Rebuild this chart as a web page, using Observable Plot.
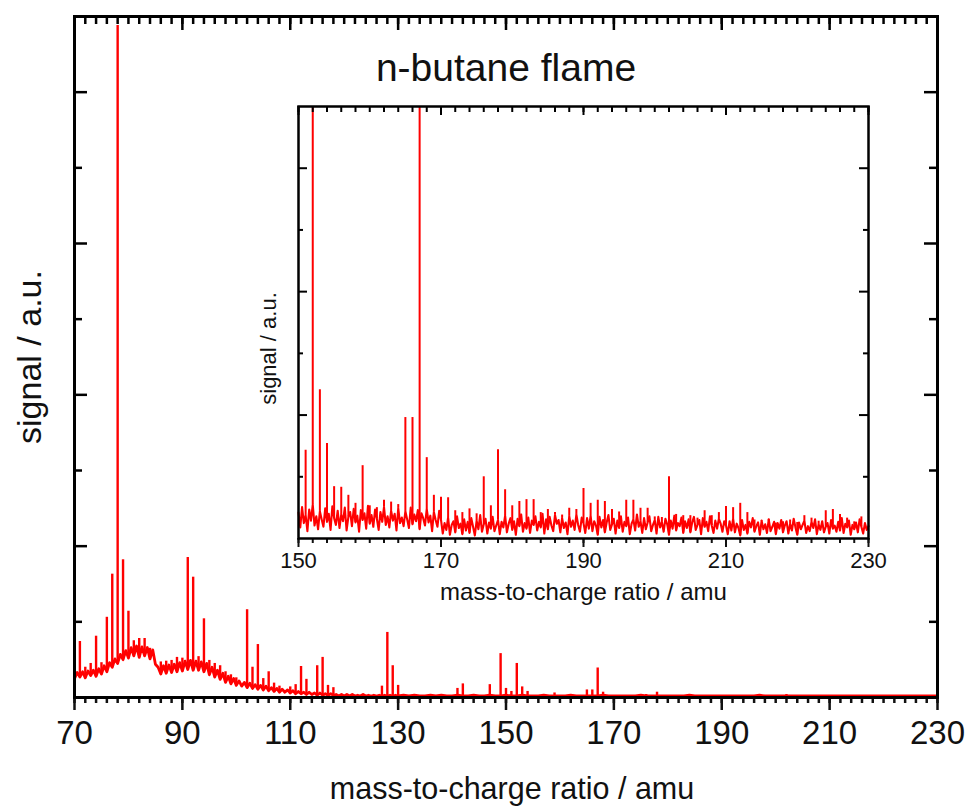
<!DOCTYPE html>
<html><head><meta charset="utf-8">
<script src="https://cdn.jsdelivr.net/npm/d3@7"></script>
<script src="https://cdn.jsdelivr.net/npm/@observablehq/plot@0.6"></script>
<style>
html,body{margin:0;padding:0;background:#fff;}
#wrap{position:relative;width:969px;height:810px;overflow:hidden;}
#main{position:absolute;left:0;top:0;}
#inset{position:absolute;left:230px;top:90px;}
</style></head><body><div id="wrap"><div id="main"></div><div id="inset"></div></div>
<script>
// ---------- texts ----------
const chartTitle = "n-butane flame";
const xTitle = "mass-to-charge ratio / amu";
const yTitle = "signal / a.u.";

// ---------- main panel ticks ----------
const xMainDomain = [70, 230];
const xMainMajor = [70, 90, 110, 130, 150, 170, 190, 210, 230];
const yMainDomain = [0, 9];
const yMainMajor = [2, 4, 6, 8];
const yMainMinor = [1, 3, 5, 7];

// ---------- inset ticks ----------
const xInsetDomain = [150, 230];
const xInsetMajor = [150, 170, 190, 210, 230];
const yInsetDomain = [0, 7];
const yInsetMajor = [2, 4, 6];
const yInsetMinor = [1, 3, 5];

// ---------- main spectrum: discrete peaks ----------
const mainPeakMass = [71,72,73,74,75,76,77,78,79,80,81,82,83,84,86,87,88,89,90,91,92,93,94,95,96,97,98,99,100,
  102,103,104,105,106,107,108,110,111,112,113,115,116,117,118,127,128,129,130,141,142,147,149,150,151,152,153,154,159,165,166,167,168,176,178,202];
const mainPeakSignal = [0.74,0.40,0.45,0.81,0.46,1.06,1.63,8.88,1.82,1.14,0.75,0.78,0.78,0.65,0.47,0.48,0.49,0.53,0.52,1.85,1.59,0.54,1.04,0.49,0.45,0.42,0.34,0.30,0.26,
  1.16,0.40,0.70,0.25,0.34,0.19,0.15,0.14,0.17,0.41,0.24,0.42,0.53,0.16,0.13,0.15,0.86,0.42,0.16,0.12,0.18,0.17,0.58,0.12,0.08,0.45,0.14,0.08,0.06,0.10,0.10,0.39,0.07,0.04,0.07,0.04];

// main baseline, 70 .. 130 amu every 0.5 amu
const mainBaseA = [
  .25,.33,.27,.34,.26,.35,.29,.36,.28,.38,
  .31,.42,.34,.46,.40,.51,.45,.57,.50,.62,
  .52,.66,.55,.68,.53,.67,.55,.66,.51,.63,
  .44,.40,.31,.42,.32,.43,.33,.44,.34,.46,
  .35,.48,.37,.49,.36,.48,.36,.47,.34,.45,
  .30,.40,.27,.36,.24,.32,.20,.28,.18,.25,
  .16,.22,.15,.20,.13,.19,.12,.17,.11,.16,
  .10,.15,.09,.13,.08,.12,.07,.11,.07,.10,
  .06,.09,.05,.08,.05,.07,.04,.07,.04,.06,
  .03,.06,.03,.05,.03,.05,.03,.04,.02,.04,
  .02,.04,.02,.04,.02,.03,.02,.04,.02,.03,
  .02,.03,.02,.03,.02,.03,.02,.03,.02,.03,
  .02];
// main baseline, 131 .. 230 amu every 1 amu
const mainBaseB = [
  .03,.02,.03,.02,.02,.03,.02,.03,.02,.02,
  .03,.02,.02,.03,.02,.02,.03,.02,.02,.03,
  .02,.02,.03,.02,.02,.02,.03,.02,.02,.02,
  .02,.03,.02,.02,.02,.02,.02,.03,.02,.02,
  .02,.02,.02,.02,.03,.02,.02,.02,.02,.02,
  .02,.02,.02,.03,.02,.02,.02,.02,.02,.02,
  .02,.02,.02,.02,.02,.02,.03,.02,.02,.02,
  .02,.02,.02,.02,.02,.02,.02,.02,.02,.02,
  .02,.02,.02,.02,.02,.02,.02,.02,.02,.02,
  .02,.02,.02,.02,.02,.02,.02,.02,.02,.02];

// ---------- inset spectrum: discrete peaks ----------
const insetPeakMass = [151,152,153,154,155,156,157,158,159,160,161,162,163,164,165,166,167,168,169,170,171,172,173,174,175,
  176,177,178,179,180,181,182,183,184,185,186,187,188,189,190,191,192,193,194,195,196,197,198,199,200,
  201,202,203,204,205,206,207,208,209,210,211,212,213,214,215,216,217,218,219,220,221,222,223,224,225,226,227,228,229];
const insetPeakSignal = [1.43,8,2.41,1.54,0.84,0.83,0.70,0.57,1.18,0.53,0.50,0.62,0.59,0.55,1.96,1.96,8,1.31,0.70,0.67,0.66,0.45,0.42,0.48,0.40,
  1.00,0.53,1.44,0.79,0.53,0.60,0.63,0.63,0.42,0.47,0.42,0.38,0.49,0.47,0.81,0.57,0.62,0.60,0.47,0.43,0.62,0.62,0.49,0.49,0.35,
  0.34,1.00,0.39,0.37,0.37,0.33,0.45,0.37,0.42,0.52,0.50,0.57,0.42,0.30,0.28,0.28,0.25,0.27,0.30,0.26,0.37,0.33,0.28,0.45,0.47,0.39,0.33,0.27,0.35];

// inset noise floor, every 0.25 amu
const insetNoise150 = [
  .42,.18,.51,.25,.38,.12,.47,.29,.55,.21,.36,.15,.44,.31,.19,.49,.27,.40,.14,.52,
  .33,.22,.45,.17,.39,.28,.50,.13,.35,.43,.20,.48,.26,.37,.11,.46,.30,.41,.16,.53,
  .24,.38,.19,.47,.32,.14,.43,.27,.51,.22,.36,.18,.45,.29,.40,.13,.49,.25,.34,.20,
  .44,.31,.17,.50,.23,.39,.28,.46,.15,.41,.33,.21,.48,.26,.37,.12,.43,.30,.19,.45];
const insetNoise170 = [
  .30,.08,.25,.14,.34,.06,.22,.28,.10,.36,.17,.24,.07,.31,.13,.27,.09,.33,.19,.05,
  .29,.15,.38,.11,.23,.32,.08,.26,.16,.35,.12,.21,.30,.07,.27,.18,.37,.10,.24,.33,
  .14,.28,.06,.32,.20,.39,.11,.25,.16,.34,.09,.29,.22,.36,.13,.27,.18,.40,.08,.31,
  .15,.35,.21,.12,.38,.24,.30,.10,.33,.17,.26,.07,.36,.19,.29,.14,.39,.22,.11,.34];
const insetNoise190 = [
  .25,.09,.33,.16,.37,.12,.28,.21,.06,.35,.18,.30,.10,.26,.38,.14,.23,.32,.08,.29,
  .17,.36,.11,.27,.20,.34,.07,.24,.31,.13,.39,.19,.28,.09,.33,.15,.26,.36,.12,.22,
  .30,.08,.35,.18,.27,.11,.32,.23,.06,.29,.16,.37,.13,.25,.20,.34,.09,.28,.17,.31,
  .10,.26,.35,.14,.22,.30,.07,.33,.19,.27,.12,.36,.21,.09,.29,.16,.32,.24,.11,.28];
const insetNoise210 = [
  .21,.07,.28,.13,.32,.10,.24,.17,.05,.30,.14,.22,.08,.27,.18,.33,.11,.20,.26,.06,
  .29,.15,.23,.09,.31,.12,.19,.27,.07,.25,.16,.30,.10,.21,.28,.08,.24,.13,.32,.18,
  .06,.26,.15,.22,.29,.09,.20,.12,.27,.17,.31,.07,.23,.14,.28,.10,.19,.25,.08,.30,
  .16,.21,.11,.27,.13,.33,.09,.24,.18,.29,.06,.22,.15,.26,.10,.31,.19,.08,.25,.14,.20];

// ---------- build tables ----------
const mainBase = [
  ...mainBaseA.map((v, i) => ({mass: 70 + i * 0.5, signal: v})),
  ...mainBaseB.map((v, i) => ({mass: 131 + i, signal: v}))
];
const mainBaseAt = new Map(mainBase.map(d => [d.mass, d.signal]));
const mainPeaks = mainPeakMass.map((m, i) => ({mass: m, signal: mainPeakSignal[i], base: mainBaseAt.get(m) ?? 0}));

const insetNoise = [...insetNoise150, ...insetNoise170, ...insetNoise190, ...insetNoise210]
  .map((v, i) => ({mass: 150 + i * 0.25, signal: v}));
const insetBaseAt = new Map(insetNoise.map(d => [d.mass, d.signal]));
const insetPeaks = insetPeakMass.map((m, i) => ({mass: m, signal: insetPeakSignal[i], base: insetBaseAt.get(m) ?? 0}));

const RED = "#ff0000";
const INK = "#111";
const FONT = "Liberation Sans, Arial, Helvetica, sans-serif";

// ---------- main plot ----------
const W = 969, H = 810;
const mL = 74, mR = 32, mT = 16, mB = 113;
const fW = W - mL - mR, fH = H - mT - mB;

const main = Plot.plot({
  width: W, height: H,
  marginLeft: mL, marginRight: mR, marginTop: mT, marginBottom: mB,
  style: {fontFamily: FONT, background: "transparent", color: INK},
  x: {domain: xMainDomain},
  y: {domain: yMainDomain, axis: null},
  marks: [
    Plot.line(mainBase, {x: "mass", y: "signal", stroke: RED, strokeWidth: 2.8}),
    Plot.ruleX(mainPeaks, {x: "mass", y1: "base", y2: "signal", stroke: RED, strokeWidth: 2.4}),
    // bottom axis (outward ticks)
    Plot.axisX({ticks: xMainMajor, tickSize: 13, tickPadding: 10, strokeWidth: 2.5, fontSize: 33, label: null, tickFormat: d => String(d)}),
    Plot.axisX({interval: 2, tickSize: 6, strokeWidth: 2.5, tickFormat: () => "", label: null}),
    // top inward ticks
    Plot.ruleX(xMainMajor, {stroke: "black", strokeWidth: 2.5, insetBottom: fH - 14}),
    Plot.ruleX(d3.range(70, 231, 2), {stroke: "black", strokeWidth: 2.5, insetBottom: fH - 8}),
    // left & right inward ticks
    Plot.ruleY(yMainMajor, {stroke: "black", strokeWidth: 2.5, insetRight: fW - 13}),
    Plot.ruleY(yMainMinor, {stroke: "black", strokeWidth: 2.5, insetRight: fW - 8}),
    Plot.ruleY(yMainMajor, {stroke: "black", strokeWidth: 2.5, insetLeft: fW - 13}),
    Plot.ruleY(yMainMinor, {stroke: "black", strokeWidth: 2.5, insetLeft: fW - 8}),
    Plot.frame({stroke: "black", strokeWidth: 3}),
    Plot.text([chartTitle], {frameAnchor: "top", lineAnchor: "middle", textAnchor: "middle", dy: 52, fontSize: 39, fill: INK}),
    Plot.text([xTitle], {frameAnchor: "bottom", lineAnchor: "middle", textAnchor: "middle", dx: 6, dy: 92, fontSize: 30.5, fill: INK}),
    Plot.text([yTitle], {frameAnchor: "left", lineAnchor: "middle", textAnchor: "middle", dx: -44, rotate: -90, fontSize: 34, fill: INK})
  ]
});
document.getElementById("main").appendChild(main);

// ---------- inset plot ----------
const iW = 660, iH = 540;
const iL = 68, iR = 22, iT = 16, iB = 92;
const ifW = iW - iL - iR, ifH = iH - iT - iB;

const inset = Plot.plot({
  width: iW, height: iH,
  marginLeft: iL, marginRight: iR, marginTop: iT, marginBottom: iB,
  style: {fontFamily: FONT, background: "transparent", color: INK},
  x: {domain: xInsetDomain},
  y: {domain: yInsetDomain, axis: null, clamp: true},
  marks: [
    Plot.line(insetNoise, {x: "mass", y: "signal", stroke: RED, strokeWidth: 2.1}),
    Plot.ruleX(insetPeaks, {x: "mass", y1: "base", y2: "signal", stroke: RED, strokeWidth: 2}),
    Plot.axisX({ticks: xInsetMajor, tickSize: 9, tickPadding: 5, strokeWidth: 2, fontSize: 22, label: null, tickFormat: d => String(d)}),
    Plot.axisX({interval: 2, tickSize: 5, strokeWidth: 2, tickFormat: () => "", label: null}),
    Plot.ruleX(xInsetMajor, {stroke: "black", strokeWidth: 2, insetBottom: ifH - 9}),
    Plot.ruleX(d3.range(150, 231, 2), {stroke: "black", strokeWidth: 2, insetBottom: ifH - 6}),
    Plot.ruleY(yInsetMajor, {stroke: "black", strokeWidth: 2, insetRight: ifW - 9}),
    Plot.ruleY(yInsetMinor, {stroke: "black", strokeWidth: 2, insetRight: ifW - 5}),
    Plot.ruleY(yInsetMajor, {stroke: "black", strokeWidth: 2, insetLeft: ifW - 9}),
    Plot.ruleY(yInsetMinor, {stroke: "black", strokeWidth: 2, insetLeft: ifW - 5}),
    Plot.frame({stroke: "black", strokeWidth: 2.5}),
    Plot.text([xTitle], {frameAnchor: "bottom", lineAnchor: "middle", textAnchor: "middle", dy: 54, fontSize: 24, fill: INK}),
    Plot.text([yTitle], {frameAnchor: "left", lineAnchor: "middle", textAnchor: "middle", dx: -30, dy: 26, rotate: -90, fontSize: 22, fill: INK})
  ]
});
document.getElementById("inset").appendChild(inset);
</script></body></html>
